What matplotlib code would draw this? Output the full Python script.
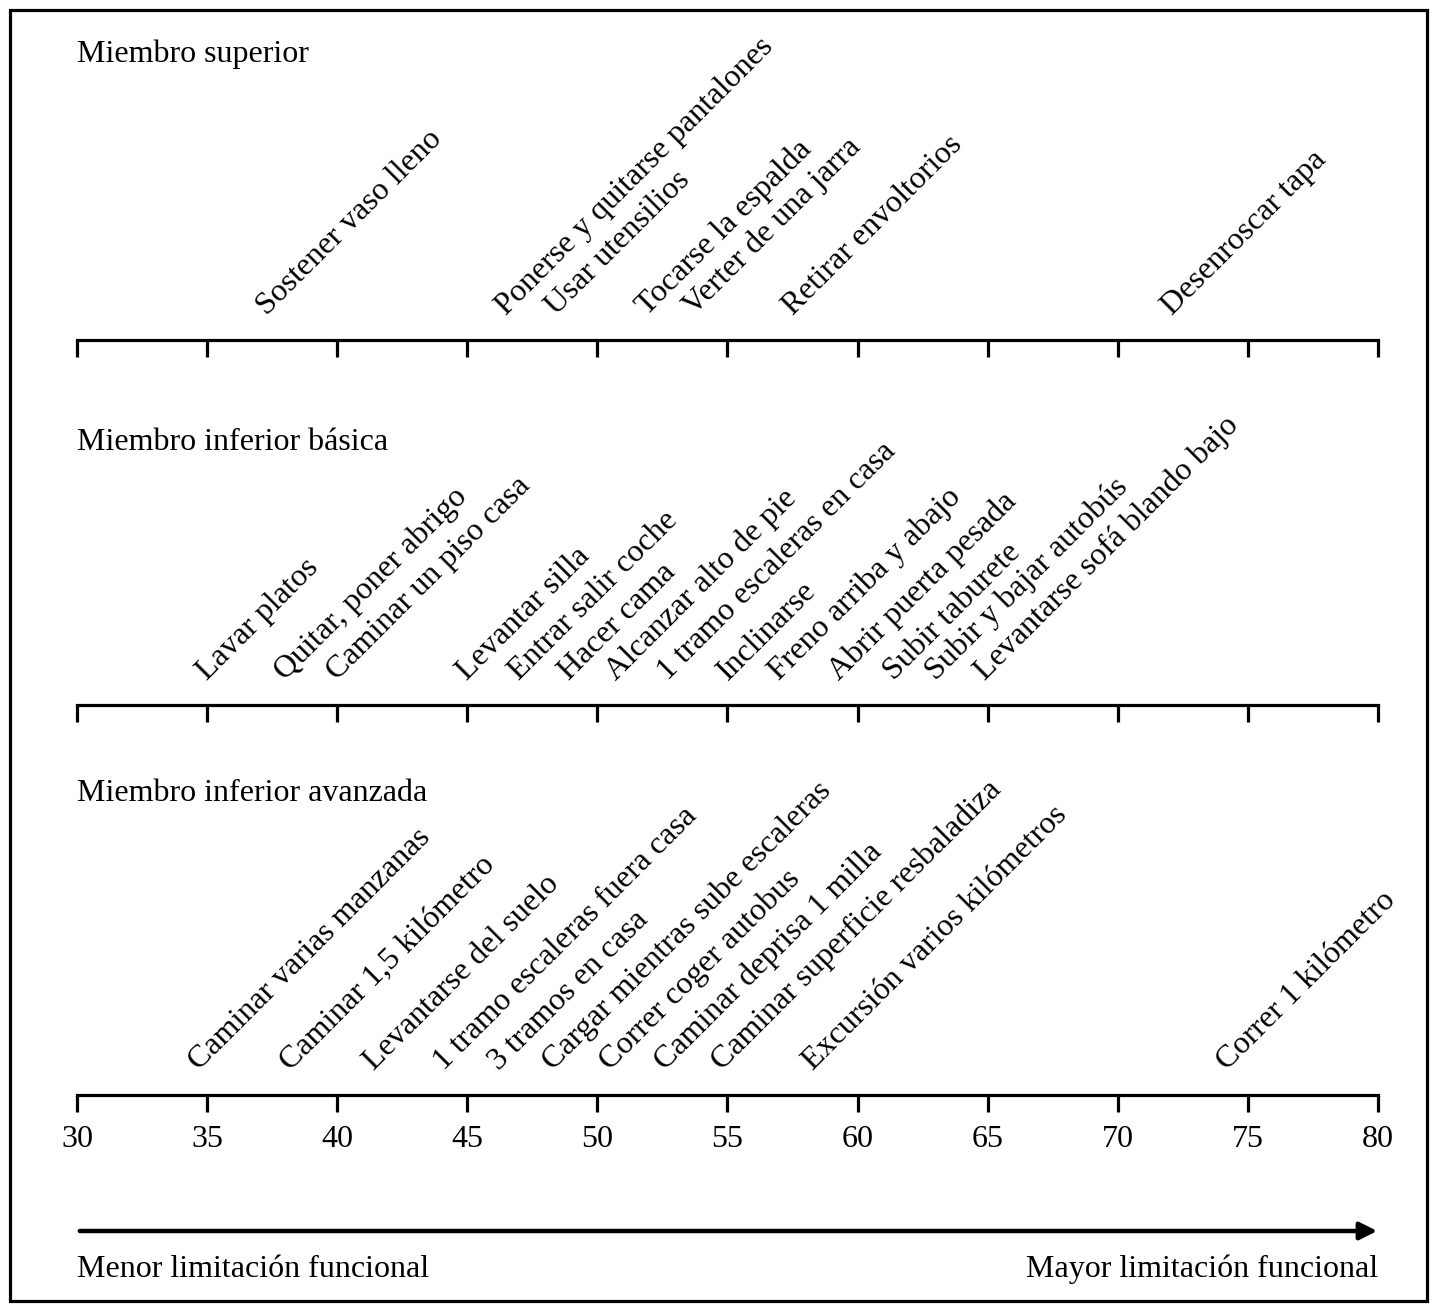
import matplotlib
matplotlib.use("Agg")
import matplotlib.pyplot as plt
from matplotlib.patches import Rectangle

plt.rcParams['font.family'] = ['Liberation Serif', 'DejaVu Serif']

# posiciones de cada actividad en la escala 30-80
sup_labels = ["Sostener vaso lleno", "Ponerse y quitarse pantalones", "Usar utensilios",
              "Tocarse la espalda", "Verter de una jarra", "Retirar envoltorios",
              "Desenroscar tapa"]
sup_vals = [37.3, 46.5, 48.4, 51.9, 53.7, 57.5, 72.1]

bas_labels = ["Lavar platos", "Quitar, poner abrigo", "Caminar un piso casa",
              "Levantar silla", "Entrar salir coche", "Hacer cama",
              "Alcanzar alto de pie", "1 tramo escaleras en casa", "Inclinarse",
              "Freno arriba y abajo", "Abrir puerta pesada", "Subir taburete",
              "Subir y bajar autobús", "Levantarse sofá blando bajo"]
bas_vals = [35.0, 38.0, 40.0, 45.0, 47.0, 48.9, 50.7, 52.7, 55.0, 57.0, 59.3,
            61.4, 63.0, 64.9]

adv_labels = ["Caminar varias manzanas", "Caminar 1,5 kilómetro", "Levantarse del suelo",
              "1 tramo escaleras fuera casa", "3 tramos en casa",
              "Cargar mientras sube escaleras", "Correr coger autobus",
              "Caminar deprisa 1 milla", "Caminar superficie resbaladiza",
              "Excursión varios kilómetros", "Correr 1 kilómetro"]
adv_vals = [34.7, 38.2, 41.4, 44.1, 46.2, 48.3, 50.5, 52.6, 54.8, 58.3, 74.2]

panel_titles = ["Miembro superior", "Miembro inferior básica", "Miembro inferior avanzada"]
ticks = [30, 35, 40, 45, 50, 55, 60, 65, 70, 75, 80]

W, H = 1437, 1311
fig = plt.figure(figsize=(W / 100, H / 100), dpi=100)

def fx(x):
    return x / W

def fy(y):
    return 1 - y / H

# borde exterior
fig.patches.append(Rectangle((fx(10), fy(1301)), fx(1427) - fx(10), fy(10) - fy(1301),
                             transform=fig.transFigure, fill=False, lw=2.3,
                             edgecolor='black'))

panels = [
    (sup_labels, sup_vals, 340, 62),
    (bas_labels, bas_vals, 705, 450),
    (adv_labels, adv_vals, 1095, 801),
]

for i, (labels, vals, axis_y, title_y) in enumerate(panels):
    ax = fig.add_axes([fx(77), fy(axis_y), fx(1378) - fx(77), 0.2])
    ax.set_xlim(30, 80)
    ax.set_ylim(0, 1)
    ax.patch.set_alpha(0)
    for s in ['top', 'right', 'left']:
        ax.spines[s].set_visible(False)
    ax.spines['bottom'].set_linewidth(2.3)
    ax.set_yticks([])
    ax.set_xticks(ticks)
    ax.tick_params(axis='x', direction='out', length=12.5, width=2.3,
                   labelsize=23, pad=9, labelbottom=(i == 2))
    for lab, v in zip(labels, vals):
        ax.annotate(lab, xy=(v, 0), xycoords=ax.get_xaxis_transform(),
                    xytext=(0, 17), textcoords='offset points',
                    rotation=45, rotation_mode='anchor', ha='left', va='baseline',
                    fontsize=23, annotation_clip=False)
    fig.text(fx(77), fy(title_y), panel_titles[i], fontsize=23,
             ha='left', va='baseline')

# flecha de limitación funcional
fig.add_artist(matplotlib.patches.FancyArrowPatch(
    (fx(77), fy(1231)), (fx(1380), fy(1231)), transform=fig.transFigure,
    arrowstyle='-|>', mutation_scale=26, lw=3.2, color='black'))

fig.text(fx(77), fy(1277), "Menor limitación funcional", fontsize=23,
         ha='left', va='baseline')
fig.text(fx(1378), fy(1277), "Mayor limitación funcional", fontsize=23,
         ha='right', va='baseline')

plt.savefig("out.png", dpi=100)
